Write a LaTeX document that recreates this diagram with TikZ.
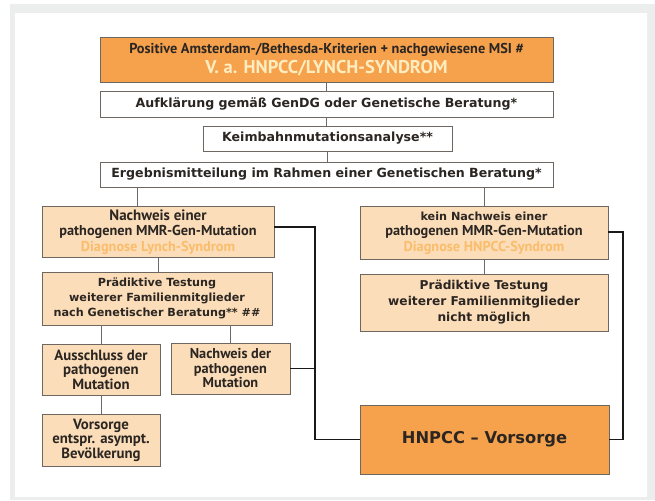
\documentclass[tikz,border=0pt]{standalone}
\usepackage{fontspec}
\setmainfont{PT Sans}
\newfontfamily\fa{PT Sans}
\newfontfamily\fb{DejaVu Sans}
\definecolor{frame}{HTML}{ECEEED}
\definecolor{orng}{HTML}{F6A14C}
\definecolor{peach}{HTML}{FCDDB9}
\definecolor{cream}{HTML}{FFEDC0}
\definecolor{diag}{HTML}{F9BD6C}
\definecolor{ink}{HTML}{2B2622}
\definecolor{bord}{HTML}{6E6660}
\definecolor{conn}{HTML}{6A6A6A}
\tikzset{
  box/.style={draw=bord, line width=0.8pt, align=center, inner sep=0pt, text=ink, font=\fb\bfseries},
  whitebox/.style={box, fill=white},
  peachbox/.style={box, fill=peach},
  orangebox/.style={box, fill=orng},
  thin/.style={draw=conn, line width=0.8pt},
  thick/.style={draw=black!90, line width=1.8pt}
}
\begin{document}
\begin{tikzpicture}[x=1pt,y=-1pt]
\useasboundingbox (0,0) rectangle (655,500);
\fill[white] (0,0) rectangle (655,500);
\fill[frame] (10,4) rectangle (655,500);
\fill[white] (15,13) rectangle (647,497);

\node[orangebox, minimum width=453, minimum height=45] (top) at (326.5,59.5)
  {{\fa\fontsize{14.3}{15}\selectfont\bfseries Positive Amsterdam-/Bethesda-Kriterien + nachgewiesene MSI \#}\\[2.5pt]
   {\fa\fontsize{18.5}{19}\selectfont\bfseries\color{cream} V. a. HNPCC/LYNCH-SYNDROM}};
\node[whitebox, minimum width=453, minimum height=26, font=\fb\bfseries\fontsize{12.6}{14}\selectfont] (aufk) at (326.5,104)
  {Aufklärung gemäß GenDG oder Genetische Beratung*};
\node[whitebox, minimum width=249, minimum height=25, font=\fb\bfseries\fontsize{12.6}{14}\selectfont] (keim) at (327.5,138.5)
  {Keimbahnmutationsanalyse**};
\node[whitebox, minimum width=453, minimum height=25, font=\fb\bfseries\fontsize{12.6}{14}\selectfont] (erg) at (326.5,174.5)
  {Ergebnismitteilung im Rahmen einer Genetischen Beratung*};

\node[peachbox, minimum width=232, minimum height=51, font=\fa\bfseries\fontsize{14.3}{15.5}\selectfont] (nl) at (158,232)
  {{\fontsize{15}{15.5}\selectfont Nachweis einer}\\pathogenen MMR-Gen-Mutation\\{\color{diag}Diagnose Lynch-Syndrom}};
\node[peachbox, minimum width=230, minimum height=53, font=\fb\bfseries\fontsize{11.2}{15}\selectfont] (pl) at (157,298.5)
  {Prädiktive Testung\\weiterer Familienmitglieder\\nach Genetischer Beratung** \#\#};
\node[peachbox, minimum width=118, minimum height=51, font=\fa\bfseries\fontsize{14.8}{14.5}\selectfont] (aus) at (101,369.5)
  {Ausschluss der\\pathogenen\\Mutation};
\node[peachbox, minimum width=119, minimum height=51, font=\fa\bfseries\fontsize{14.3}{14.5}\selectfont] (nd) at (230.5,368.5)
  {Nachweis der\\pathogenen\\Mutation};
\node[peachbox, minimum width=118, minimum height=52, font=\fa\bfseries\fontsize{14.8}{14.5}\selectfont] (vor) at (101,440)
  {Vorsorge\\entspr. asympt.\\Bevölkerung};

\node[peachbox, minimum width=248, minimum height=53, font=\fa\bfseries\fontsize{14.3}{15.5}\selectfont] (kr) at (484,233)
  {{\fb\fontsize{11.2}{15.5}\selectfont kein Nachweis einer}\\pathogenen MMR-Gen-Mutation\\{\color{diag}Diagnose HNPCC-Syndrom}};
\node[peachbox, minimum width=248, minimum height=57, font=\fb\bfseries\fontsize{12.2}{16}\selectfont] (pr) at (484,302.5)
  {Prädiktive Testung\\weiterer Familienmitglieder\\nicht möglich};
\node[orangebox, minimum width=249, minimum height=69, font=\fb\bfseries\fontsize{16.3}{18}\selectfont] (hn) at (484.5,439.5)
  {HNPCC – Vorsorge};

% thin connectors
\draw[thin] (top.south) -- (aufk.north);
\draw[thin] (aufk.south) -- (aufk.south |- keim.north);
\draw[thin] (keim.south) -- (keim.south |- erg.north);
\draw[thin] ([xshift=-21]nl.north) -- ([xshift=-21]nl.north |- erg.south);
\draw[thin] (kr.north) -- (kr.north |- erg.south);
\draw[thin] (nl.south) -- (nl.south |- pl.north);
\draw[thin] (aus.north) -- (aus.north |- pl.south);
\draw[thin] (nd.north) -- (nd.north |- pl.south);
\draw[thin] (aus.south) -- (vor.north);
\draw[thin] (kr.south) -- (pr.north);

% thick connectors
\coordinate (jl) at (315,227);
\coordinate (jr) at (623,232);
\draw[thick] (nl.east |- jl) -- (jl) |- (hn.west);
\draw[thick] (nd.east) -- (nd.east -| jl);
\draw[thick] (kr.east |- jr) -- (jr) |- (hn.east);
\end{tikzpicture}
\end{document}
